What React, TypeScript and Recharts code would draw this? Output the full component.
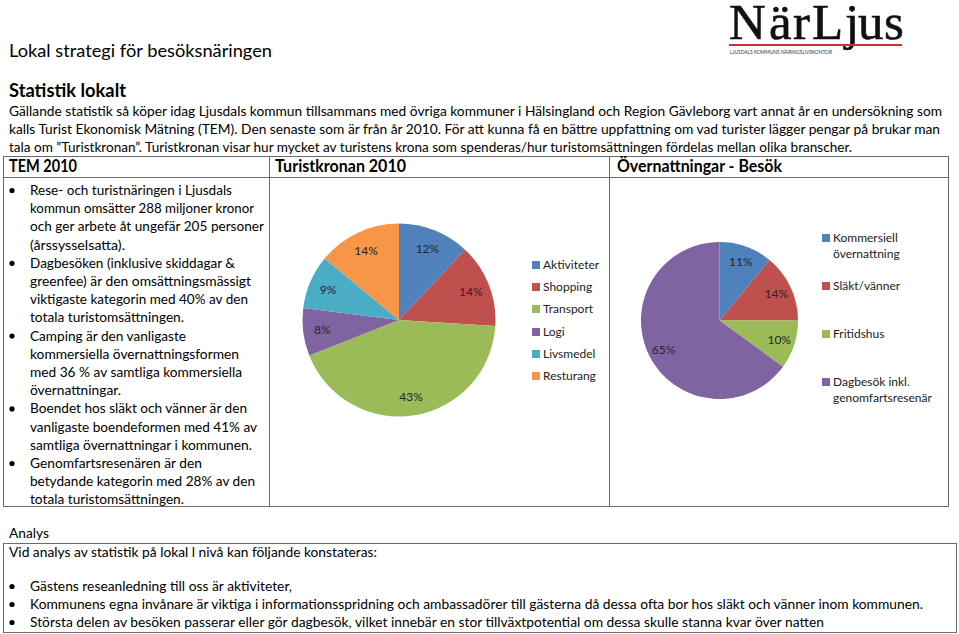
import React from "react"
import { PieChart, Pie, Cell, Legend } from "recharts"

// Turistkronan 2010 (andel i %)
const turistkronanNames = ["Aktiviteter", "Shopping", "Transport", "Logi", "Livsmedel", "Resturang"]
const turistkronanValues = [12, 14, 43, 8, 9, 14]
const turistkronanColors = ["#4F81BD", "#C0504D", "#9BBB59", "#8064A2", "#4BACC6", "#F79646"]

// Övernattningar - Besök (andel i %)
const besokNames = ["Kommersiell övernattning", "Släkt/vänner", "Fritidshus", "Dagbesök inkl. genomfartsresenär"]
const besokValues = [11, 14, 10, 65]
const besokColors = ["#4F81BD", "#C0504D", "#9BBB59", "#8064A2"]

const turistkronanData = turistkronanNames.map((name, i) => ({ name, value: turistkronanValues[i] }))
const besokData = besokNames.map((name, i) => ({ name, value: besokValues[i] }))

const FONT = "Lato, 'Open Sans', sans-serif"
const RADIAN = Math.PI / 180

const tableText = [
  "Rese- och turistnäringen i Ljusdals",
  "kommun omsätter 288 miljoner kronor",
  "och ger arbete åt ungefär 205 personer",
  "(årssysselsatta).",
  "Dagbesöken (inklusive skiddagar &",
  "greenfee) är den omsättningsmässigt",
  "viktigaste kategorin med 40% av den",
  "totala turistomsättningen.",
  "Camping är den vanligaste",
  "kommersiella övernattningsformen",
  "med 36 % av samtliga kommersiella",
  "övernattningar.",
  "Boendet hos släkt och vänner är den",
  "vanligaste boendeformen med 41% av",
  "samtliga övernattningar i kommunen.",
  "Genomfartsresenären är den",
  "betydande kategorin med 28% av den",
  "totala turistomsättningen.",
]
const tableEnds = [232, 254, 264, 125, 235, 251, 248, 184, 186, 239, 242, 121, 247, 257, 252, 202, 255, 184]
const bulletRows = [0, 4, 8, 12, 15]

// logo letters and where each one starts
const logoLetters = ["N", "ä", "r", "L", "j", "u", "s"]
const logoX = [729, 769, 793, 812, 845, 858, 884]

function T({ x, y, end, size = 14, weight = 400, children }: any) {
  return (
    <text
      x={x}
      y={y}
      fontFamily={FONT}
      fontSize={size}
      fontWeight={weight}
      fill="#000"
      textLength={end ? end - x : undefined}
      lengthAdjust="spacingAndGlyphs"
    >
      {children}
    </text>
  )
}

const renderLabel = (props: any) => {
  const { cx, cy, midAngle, outerRadius, value } = props
  const r = outerRadius * 0.8
  const x = cx + r * Math.cos(-midAngle * RADIAN)
  const y = cy + r * Math.sin(-midAngle * RADIAN)
  return (
    <text x={x} y={y} fill="#262626" fontFamily={FONT} fontSize={12} textAnchor="middle" dominantBaseline="central">
      {value}%
    </text>
  )
}

// legend keeps the data order (recharts sorts its payload by name)
function makeLegend(names: string[], colors: string[], itemHeight: number, width: number) {
  return () => (
    <div style={{ width, fontFamily: FONT, fontSize: 12, color: "#222", lineHeight: "15.5px" }}>
      {names.map((name, i) => (
        <div key={name} style={{ display: "flex", alignItems: "flex-start", height: itemHeight }}>
          <span style={{ width: 8, height: 8, marginTop: 4, marginRight: 3, background: colors[i], flex: "none" }} />
          <span>{name}</span>
        </div>
      ))}
    </div>
  )
}

export default function App() {
  return (
    <div style={{ position: "absolute", left: 0, top: 0, width: 959, height: 634, background: "#fff", overflow: "hidden" }}>
      <svg width={959} height={634} style={{ position: "absolute", left: 0, top: 0 }}>
        {/* logo */}
        <text y={39} fontFamily="'Liberation Serif', serif" fontSize={51} fill="#111" stroke="#111" strokeWidth={0.6}>
          {logoLetters.map((ch, i) => (
            <tspan key={i} x={logoX[i]}>
              {ch}
            </tspan>
          ))}
        </text>
        <line x1={729} x2={902} y1={45} y2={45} stroke="#d03030" strokeWidth={2} />
        <text x={730} y={54} fontFamily={FONT} fontSize={6} fill="#333" textLength={102} lengthAdjust="spacingAndGlyphs">
          LJUSDALS KOMMUNS NÄRINGSLIVSKONTOR
        </text>

        <T x={9} y={57} size={17.5} end={272}>Lokal strategi för besöksnäringen</T>
        <T x={9} y={97} size={18} weight={700} end={126}>Statistik lokalt</T>
        <T x={9} y={116} end={942}>
          Gällande statistik så köper idag Ljusdals kommun tillsammans med övriga kommuner i Hälsingland och Region Gävleborg vart annat år en undersökning som
        </T>
        <T x={9} y={134} end={940}>
          kalls Turist Ekonomisk Mätning (TEM). Den senaste som är från år 2010. För att kunna få en bättre uppfattning om vad turister lägger pengar på brukar man
        </T>
        <T x={9} y={152} end={852}>
          tala om ”Turistkronan”. Turistkronan visar hur mycket av turistens krona som spenderas/hur turistomsättningen fördelas mellan olika branscher.
        </T>

        {/* table */}
        <rect x={3.5} y={156.5} width={945} height={350} fill="none" stroke="#6b6b6b" />
        <line x1={3.5} x2={948.5} y1={177.5} y2={177.5} stroke="#6b6b6b" />
        <line x1={269.5} x2={269.5} y1={156.5} y2={506.5} stroke="#6b6b6b" />
        <line x1={609.5} x2={609.5} y1={156.5} y2={506.5} stroke="#6b6b6b" />
        <T x={9} y={172} size={16.5} weight={700} end={77}>TEM 2010</T>
        <T x={275} y={172} size={16.5} weight={700} end={406}>Turistkronan 2010</T>
        <T x={617} y={172} size={16.5} weight={700} end={782}>Övernattningar - Besök</T>

        {tableText.map((line, i) => (
          <T key={i} x={30} y={195 + i * 18.2} end={tableEnds[i]}>
            {line}
          </T>
        ))}
        {bulletRows.map((r) => (
          <circle key={r} cx={12} cy={190.5 + r * 18.2} r={2.6} fill="#000" />
        ))}

        {/* analys */}
        <T x={9} y={538} end={49}>Analys</T>
        <rect x={3.5} y={543.5} width={953} height={89} fill="none" stroke="#6b6b6b" />
        <T x={9} y={557} end={377}>Vid analys av statistik på lokal l nivå kan följande konstateras:</T>
        <T x={30} y={591} end={292}>Gästens reseanledning till oss är aktiviteter,</T>
        <T x={30} y={609} end={923}>
          Kommunens egna invånare är viktiga i informationsspridning och ambassadörer till gästerna då dessa ofta bor hos släkt och vänner inom kommunen.
        </T>
        <T x={30} y={627} end={824}>
          Största delen av besöken passerar eller gör dagbesök, vilket innebär en stor tillväxtpotential om dessa skulle stanna kvar över natten
        </T>
        {[0, 1, 2].map((i) => (
          <circle key={i} cx={12} cy={586.5 + i * 18} r={2.6} fill="#000" />
        ))}
      </svg>

      <div style={{ position: "absolute", left: 280, top: 185 }}>
        <PieChart width={328} height={250} margin={{ top: 0, right: 0, bottom: 0, left: 0 }}>
          <Pie
            data={turistkronanData}
            dataKey="value"
            nameKey="name"
            cx={119}
            cy={135}
            outerRadius={96.5}
            startAngle={90}
            endAngle={-270}
            stroke="none"
            label={renderLabel}
            labelLine={false}
            isAnimationActive={false}
          >
            {turistkronanData.map((_, i) => (
              <Cell key={i} fill={turistkronanColors[i]} />
            ))}
          </Pie>
          <Legend
            layout="vertical"
            align="right"
            verticalAlign="top"
            content={makeLegend(turistkronanNames, turistkronanColors, 22.2, 80)}
            wrapperStyle={{ left: 252, top: 72, right: "auto", width: 80 }}
          />
        </PieChart>
      </div>

      <div style={{ position: "absolute", left: 620, top: 185 }}>
        <PieChart width={328} height={250} margin={{ top: 0, right: 0, bottom: 0, left: 0 }}>
          <Pie
            data={besokData}
            dataKey="value"
            nameKey="name"
            cx={99.5}
            cy={135.5}
            outerRadius={78.5}
            startAngle={90}
            endAngle={-270}
            stroke="none"
            label={renderLabel}
            labelLine={false}
            isAnimationActive={false}
          >
            {besokData.map((_, i) => (
              <Cell key={i} fill={besokColors[i]} />
            ))}
          </Pie>
          <Legend
            layout="vertical"
            align="right"
            verticalAlign="top"
            content={makeLegend(besokNames, besokColors, 48, 110)}
            wrapperStyle={{ left: 202, top: 45, right: "auto", width: 110 }}
          />
        </PieChart>
      </div>
    </div>
  )
}
